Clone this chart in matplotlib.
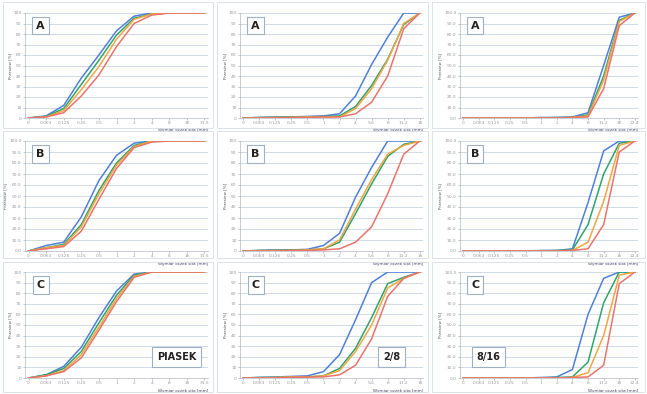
import matplotlib.pyplot as plt
from matplotlib.patches import Rectangle

# sieve sizes [mm] for each material
sieves_sand = ["0", "0.063", "0.125", "0.25", "0.5", "1", "2", "4", "8", "16", "31.5"]
sieves_28 = ["0", "0.063", "0.125", "0.25", "0.5", "1", "2", "4", "5.6", "8", "11.2", "16"]
sieves_816 = ["0", "0.063", "0.125", "0.25", "0.5", "1", "2", "4", "8", "11.2", "16", "22.4"]

# passing [%] - series order: blue, green, orange, red
sand_A = [[0, 2, 12, 38, 60, 83, 97, 100, 100, 100, 100],
          [0, 1.5, 9, 32, 55, 79, 95, 99, 100, 100, 100],
          [0, 1, 7, 27, 49, 75, 94, 99, 100, 100, 100],
          [0, 1, 5, 21, 41, 68, 90, 98, 100, 100, 100]]
sand_B = [[0, 5, 8, 31, 64, 87, 98, 100, 100, 100, 100],
          [0, 3, 6, 24, 55, 80, 96, 100, 100, 100, 100],
          [0, 3, 5, 22, 52, 78, 95, 100, 100, 100, 100],
          [0, 2, 4, 18, 47, 75, 94, 99, 100, 100, 100]]
sand_C = [[0, 3, 11, 29, 57, 82, 98, 100, 100, 100, 100],
          [0, 3, 9, 25, 52, 78, 97, 100, 100, 100, 100],
          [0, 2, 7, 22, 48, 75, 96, 100, 100, 100, 100],
          [0, 2, 6, 19, 45, 72, 95, 100, 100, 100, 100]]

g28_A = [[0, 0.5, 1, 1, 1.5, 2, 4, 21, 51, 77, 100, 100],
         [0, 0.5, 0.5, 1, 1, 1.5, 2, 11, 31, 56, 89, 100],
         [0, 0, 0.5, 0.5, 1, 1, 1, 9, 28, 55, 90, 100],
         [0, 0, 0, 0.5, 0.5, 1, 1, 4, 15, 40, 85, 100]]
g28_B = [[0, 0.5, 1, 1, 1.5, 5, 16, 49, 76, 100, 100, 100],
         [0, 0.5, 0.5, 1, 1, 2, 8, 34, 61, 86, 97, 100],
         [0, 0, 0.5, 0.5, 1, 2, 10, 38, 65, 88, 96, 100],
         [0, 0, 0, 0.5, 0.5, 1, 2, 8, 22, 52, 88, 100]]
g28_C = [[0, 0.5, 1, 1.5, 2, 6, 22, 55, 90, 100, 100, 100],
         [0, 0.5, 0.5, 1, 1, 2, 9, 28, 57, 89, 95, 100],
         [0, 0, 0.5, 1, 1, 2, 7, 25, 50, 85, 94, 100],
         [0, 0, 0, 0.5, 1, 1, 3, 12, 37, 77, 94, 100]]

g816_A = [[0, 0, 0, 0, 0, 0.5, 0.5, 1, 5, 50, 96, 100],
          [0, 0, 0, 0, 0, 0, 0.5, 0.5, 3, 40, 93, 100],
          [0, 0, 0, 0, 0, 0, 0, 0.5, 2, 36, 92, 100],
          [0, 0, 0, 0, 0, 0, 0, 0.5, 1, 28, 88, 100]]
g816_B = [[0, 0, 0, 0, 0, 0.5, 0.5, 2, 44, 91, 100, 100],
          [0, 0, 0, 0, 0, 0, 0.5, 1, 24, 70, 98, 100],
          [0, 0, 0, 0, 0, 0, 0, 0.5, 8, 45, 96, 100],
          [0, 0, 0, 0, 0, 0, 0, 0.5, 2, 24, 90, 100]]
g816_C = [[0, 0, 0, 0, 0, 0.5, 1, 8, 60, 94, 100, 100],
          [0, 0, 0, 0, 0, 0, 0.5, 1, 15, 71, 100, 100],
          [0, 0, 0, 0, 0, 0, 0, 0.5, 5, 40, 97, 100],
          [0, 0, 0, 0, 0, 0, 0, 0.5, 1, 12, 89, 100]]

colors = ["#4f7fd8", "#2fa36a", "#f0a640", "#e8746a"]
row_labels = ["A", "B", "C"]
col_names = ["PIASEK", "2/8", "8/16"]
col_sieves = [sieves_sand, sieves_28, sieves_816]
panels = [[sand_A, g28_A, g816_A],
          [sand_B, g28_B, g816_B],
          [sand_C, g28_C, g816_C]]

W, H = 647, 394
fig = plt.figure(figsize=(6.47, 3.94), dpi=100)

# axes boxes in pixels (left, right) / (top, bottom)
cols_px = [(25, 208), (240, 423), (460, 638)]
rows_px = [(13, 118), (141, 251), (272, 378)]
cells_x = [(3, 213), (217, 428), (432, 645)]
cells_y = [(2, 128), (131, 258), (262, 392)]

for (x0, x1) in cells_x:
    for (y0, y1) in cells_y:
        fig.patches.append(Rectangle((x0 / W, 1 - y1 / H), (x1 - x0) / W, (y1 - y0) / H,
                                     transform=fig.transFigure, fill=False,
                                     edgecolor="#d6dde5", lw=0.6))

for r in range(3):
    for c in range(3):
        x0, x1 = cols_px[c]
        y0, y1 = rows_px[r]
        ax = fig.add_axes([x0 / W, 1 - y1 / H, (x1 - x0) / W, (y1 - y0) / H])
        cats = col_sieves[c]
        xs = list(range(len(cats)))
        for s, col in zip(panels[r][c], colors):
            ax.plot(xs, s, color=col, lw=1.1)
        ax.set_xlim(-0.2, len(cats) - 0.8)
        ax.set_ylim(0, 100)
        ax.set_xticks(xs)
        ax.set_xticklabels(cats, fontsize=3.2, color="#666666")
        ax.set_yticks(range(0, 101, 10))
        if c == 2 or (r == 1 and c == 0):
            ax.set_yticklabels(["%.1f" % v for v in range(0, 101, 10)], fontsize=3.2, color="#666666")
        else:
            ax.set_yticklabels([str(v) for v in range(0, 101, 10)], fontsize=3.2, color="#666666")
        ax.tick_params(length=1.5, width=0.4, pad=1, colors="#999999")
        ax.grid(axis="y", color="#c9d5e2", lw=0.6)
        ax.set_axisbelow(True)
        for sp in ["top", "right"]:
            ax.spines[sp].set_visible(False)
        for sp in ["left", "bottom"]:
            ax.spines[sp].set_color("#b0b8c0")
            ax.spines[sp].set_linewidth(0.5)
        ax.set_ylabel("Przesiew [%]", fontsize=3, color="#555555", labelpad=1)
        ax.text(1.0, -0.1, "Wymiar oczek sita [mm]", transform=ax.transAxes,
                ha="right", va="top", fontsize=3, color="#444466")
        ax.text(0.085, 0.88, row_labels[r], transform=ax.transAxes, ha="center", va="center",
                fontsize=8, fontweight="bold", color="#222222",
                bbox=dict(boxstyle="square,pad=0.35", fc="white", ec="#9fb0c0", lw=0.8))
        if r == 2:
            if c == 2:
                px, py = 0.16, 0.2
            else:
                px, py = 0.83, 0.2
            ax.text(px, py, col_names[c], transform=ax.transAxes, ha="center", va="center",
                    fontsize=7, fontweight="bold", color="#222222",
                    bbox=dict(boxstyle="square,pad=0.5", fc="white", ec="#9fb0c0", lw=0.8))

fig.savefig("out.png", dpi=100)
